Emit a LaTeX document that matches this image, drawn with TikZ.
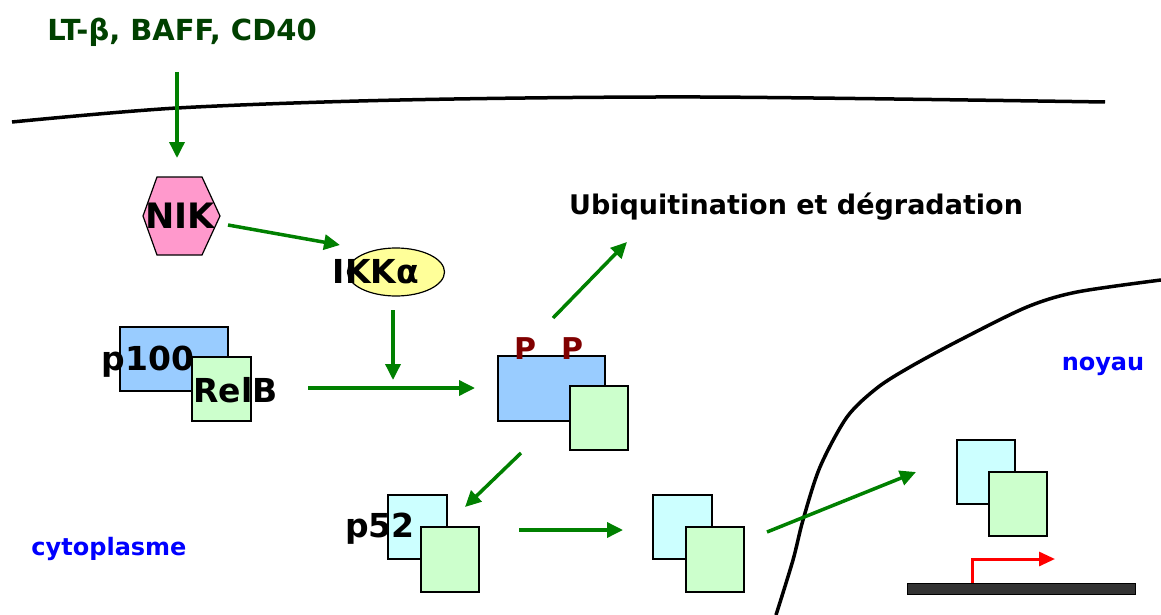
\documentclass[tikz,border=0pt]{standalone}
\usepackage{fontspec}
\setmainfont{DejaVu Sans}
\usetikzlibrary{shapes.geometric,arrows.meta}
\definecolor{vert}{RGB}{0,128,0}
\definecolor{vertfonce}{RGB}{0,64,0}
\definecolor{rose}{RGB}{255,153,204}
\definecolor{jaune}{RGB}{255,255,153}
\definecolor{bleu}{RGB}{153,204,255}
\definecolor{cyanclair}{RGB}{204,255,255}
\definecolor{vertclair}{RGB}{204,255,204}
\definecolor{rougefonce}{RGB}{128,0,0}
\definecolor{gris}{RGB}{51,51,51}
\tikzset{
  fleche/.style={draw=vert, line width=3.5pt, -{Triangle[length=16pt,width=15pt]}},
  boite/.style={draw, line width=1.6pt, inner sep=0pt},
  grand/.style={font=\fontsize{33}{38}\selectfont\bfseries, inner sep=0pt},
  moyen/.style={font=\fontsize{27}{32}\selectfont\bfseries, inner sep=0pt},
  petit/.style={font=\fontsize{24}{28}\selectfont\bfseries, inner sep=0pt, text=blue},
}
\begin{document}
\begin{tikzpicture}[x=1pt, y=-1pt]
        \useasboundingbox (0,0) rectangle (1161,615);

        % Membranes
        \draw[line width=3.5pt] plot[smooth] coordinates {(12,122) (177,108) (400,100) (700,97) (1105,102)};
        \draw[line width=3.5pt] plot[smooth] coordinates {(776,615) (793,560) (803,520) (820,467) (847,417)
            (877,388) (910,367) (960,340) (1027,307) (1077,292) (1161,280)};

        % Signal
        \node[moyen, font=\fontsize{29}{34}\selectfont\bfseries, text=vertfonce] (ligands) at (182,32) {LT-β, BAFF, CD40};

        % NIK
        \filldraw[fill=rose, line width=1.2pt] (143,216) -- (157,177) -- (202,177) -- (220,216)
            -- (202,255) -- (157,255) -- cycle;
        \node[grand, font=\fontsize{35}{40}\selectfont\bfseries] (nik) at (180,216) {NIK};

        % IKK alpha
        \node[ellipse, draw, fill=jaune, line width=1.2pt, minimum width=97, minimum height=48] (ikkfond) at (396,272) {};
        \node[grand] (ikk) at (376,272) {IKKα};

        % p100 / RelB
        \node[boite, fill=bleu, minimum width=108, minimum height=64] (p100) at (174,359) {};
        \node[grand, anchor=base] (p100txt) at (148,370) {p100};
        \node[boite, fill=vertclair, minimum width=59, minimum height=64] (relb) at (221.5,389) {};
        \node[grand, anchor=base] (relbtxt) at (235.5,402) {RelB};

        % Complexe phosphoryle
        \node[boite, fill=bleu, minimum width=107, minimum height=65] (pbleu) at (551.5,388.5) {};
        \node[boite, fill=vertclair, minimum width=58, minimum height=64] (pvert) at (599,418) {};
        \node[font=\fontsize{30}{34}\selectfont\bfseries, text=rougefonce, inner sep=0pt] (p1) at (525,349) {P};
        \node[font=\fontsize{30}{34}\selectfont\bfseries, text=rougefonce, inner sep=0pt] (p2) at (572,349) {P};

        % Ubiquitination
        \node[moyen] (ubi) at (796,207) {Ubiquitination et dégradation};

        % p52 / RelB
        \node[boite, fill=cyanclair, minimum width=59, minimum height=64] (p52) at (417.5,527) {};
        \node[boite, fill=vertclair, minimum width=58, minimum height=65] (relb2) at (450,559.5) {};
        \node[grand, anchor=base] (p52txt) at (380,537) {p52};

        \node[boite, fill=cyanclair, minimum width=59, minimum height=64] (p52b) at (682.5,527) {};
        \node[boite, fill=vertclair, minimum width=58, minimum height=65] (relb3) at (715,559.5) {};

        % Noyau
        \node[boite, fill=cyanclair, minimum width=58, minimum height=64] (p52c) at (986,472) {};
        \node[boite, fill=vertclair, minimum width=58, minimum height=64] (relb4) at (1018,504) {};
        \node[boite, fill=gris, line width=1pt, minimum width=228, minimum height=11] (adn) at (1021,588.5) {};
        \coordinate (fin) at (1055,559);
        \draw[draw=red, line width=3pt, -{Triangle[length=16pt,width=14pt]}] (972,583) |- (fin);

        % Compartiments
        \node[petit] (noyau) at (1103,366) {noyau};
        \node[petit] (cyto) at (109,549) {cytoplasme};

        % Fleches
        \coordinate (a1) at (177,72);   \coordinate (b1) at (177,158);
        \coordinate (a2) at (228,225);  \coordinate (b2) at (340,245);
        \coordinate (a3) at (393,310);  \coordinate (b3) at (393,380);
        \coordinate (a4) at (308,388);  \coordinate (b4) at (475,388);
        \coordinate (a5) at (553,318);  \coordinate (b5) at (627,242);
        \coordinate (a6) at (521,453);  \coordinate (b6) at (465,507);
        \coordinate (a7) at (519,530);  \coordinate (b7) at (623,530);
        \coordinate (a8) at (767,532);  \coordinate (b8) at (916,472);
        \foreach \i in {1,...,8}
            \draw[fleche] (a\i) -- (b\i);
    \end{tikzpicture}
\end{document}
